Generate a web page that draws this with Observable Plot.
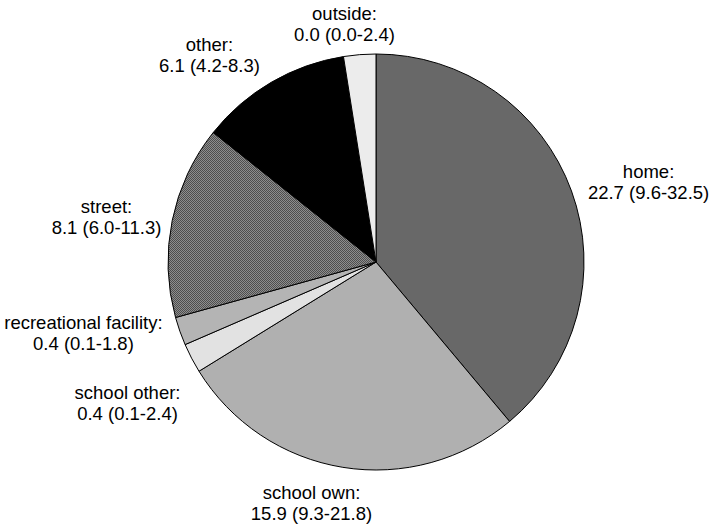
<!DOCTYPE html>
<html>
<head>
<meta charset="utf-8">
<script src="https://cdn.jsdelivr.net/npm/d3@7"></script>
<script src="https://cdn.jsdelivr.net/npm/@observablehq/plot@0.6"></script>
<style>
  html, body { margin: 0; padding: 0; background: #fff; }
  svg { display: block; }
</style>
</head>
<body>
<div id="chart"></div>
<script>
// ---- data ----
const categories = ["home", "school own", "school other", "recreational facility", "street", "other", "outside"];
const estimates  = [22.7, 15.9, 0.4, 0.4, 8.1, 6.1, 0.0];
const lowerCI    = [9.6, 9.3, 0.1, 0.1, 6.0, 4.2, 0.0];
const upperCI    = [32.5, 21.8, 2.4, 1.8, 11.3, 8.3, 2.4];
// slice shares (% of the circle), as drawn
const shares     = [38.9, 27.3, 2.3, 2.2, 15.0, 11.8, 2.5];

// ---- styling / layout (kept apart from data) ----
const fills = ["#686868", "#b0b0b0", "#e2e2e2", "#b4b4b4", "url(#streetHatch)", "#000000", "#ececec"];
// label anchors: offset from pie centre in radii (dx right, dy up)
const labelDx = [1.308, -0.3125, -1.197, -1.409, -1.298, -0.803, -0.154];
const labelDy = [0.389, -1.154, -0.673, -0.337, 0.221, 1.0, 1.149];

const fmt = v => v.toFixed(1);
const rows = categories.map((c, i) => ({
  category: c,
  share: shares[i],
  fill: fills[i],
  lx: labelDx[i],
  ly: labelDy[i],
  label: `${c}:\n${fmt(estimates[i])} (${fmt(lowerCI[i])}-${fmt(upperCI[i])})`
}));

const W = 714, H = 527, R = 208, CX = 376, CY = 262;

function pieMark(index, scales) {
  const cx = scales.x(0), cy = scales.y(0);
  const r = scales.x(1) - scales.x(0);
  const g = d3.create("svg:g");
  const defs = g.append("defs");
  const pat = defs.append("pattern")
    .attr("id", "streetHatch")
    .attr("patternUnits", "userSpaceOnUse")
    .attr("width", 2).attr("height", 2);
  pat.append("rect").attr("width", 2).attr("height", 2).attr("fill", "#8e8e8e");
  pat.append("rect").attr("x", 0).attr("y", 0).attr("width", 1).attr("height", 1).attr("fill", "#4e4e4e");
  pat.append("rect").attr("x", 1).attr("y", 1).attr("width", 1).attr("height", 1).attr("fill", "#4e4e4e");
  const arcs = d3.pie().sort(null).value(d => d.share)(rows);
  const arc = d3.arc().innerRadius(0).outerRadius(r);
  g.append("g")
    .attr("transform", `translate(${cx},${cy})`)
    .selectAll("path")
    .data(arcs)
    .join("path")
    .attr("d", arc)
    .attr("fill", d => d.data.fill)
    .attr("stroke", "#000")
    .attr("stroke-width", 1)
    .attr("stroke-linejoin", "round");
  return g.node();
}

const chart = Plot.plot({
  width: W,
  height: H,
  margin: 0,
  style: { fontFamily: "'Liberation Sans', Arial, sans-serif", background: "#fff", color: "#000" },
  x: { domain: [-CX / R, (W - CX) / R], range: [0, W], axis: null },
  y: { domain: [-(H - CY) / R, CY / R], range: [H, 0], axis: null },
  marks: [
    pieMark,
    Plot.text(rows, {
      x: "lx",
      y: "ly",
      text: "label",
      fontSize: 18.5,
      lineHeight: 1.13,
      textAnchor: "middle",
      fill: "#000"
    })
  ]
});

document.getElementById("chart").appendChild(chart);
</script>
</body>
</html>
